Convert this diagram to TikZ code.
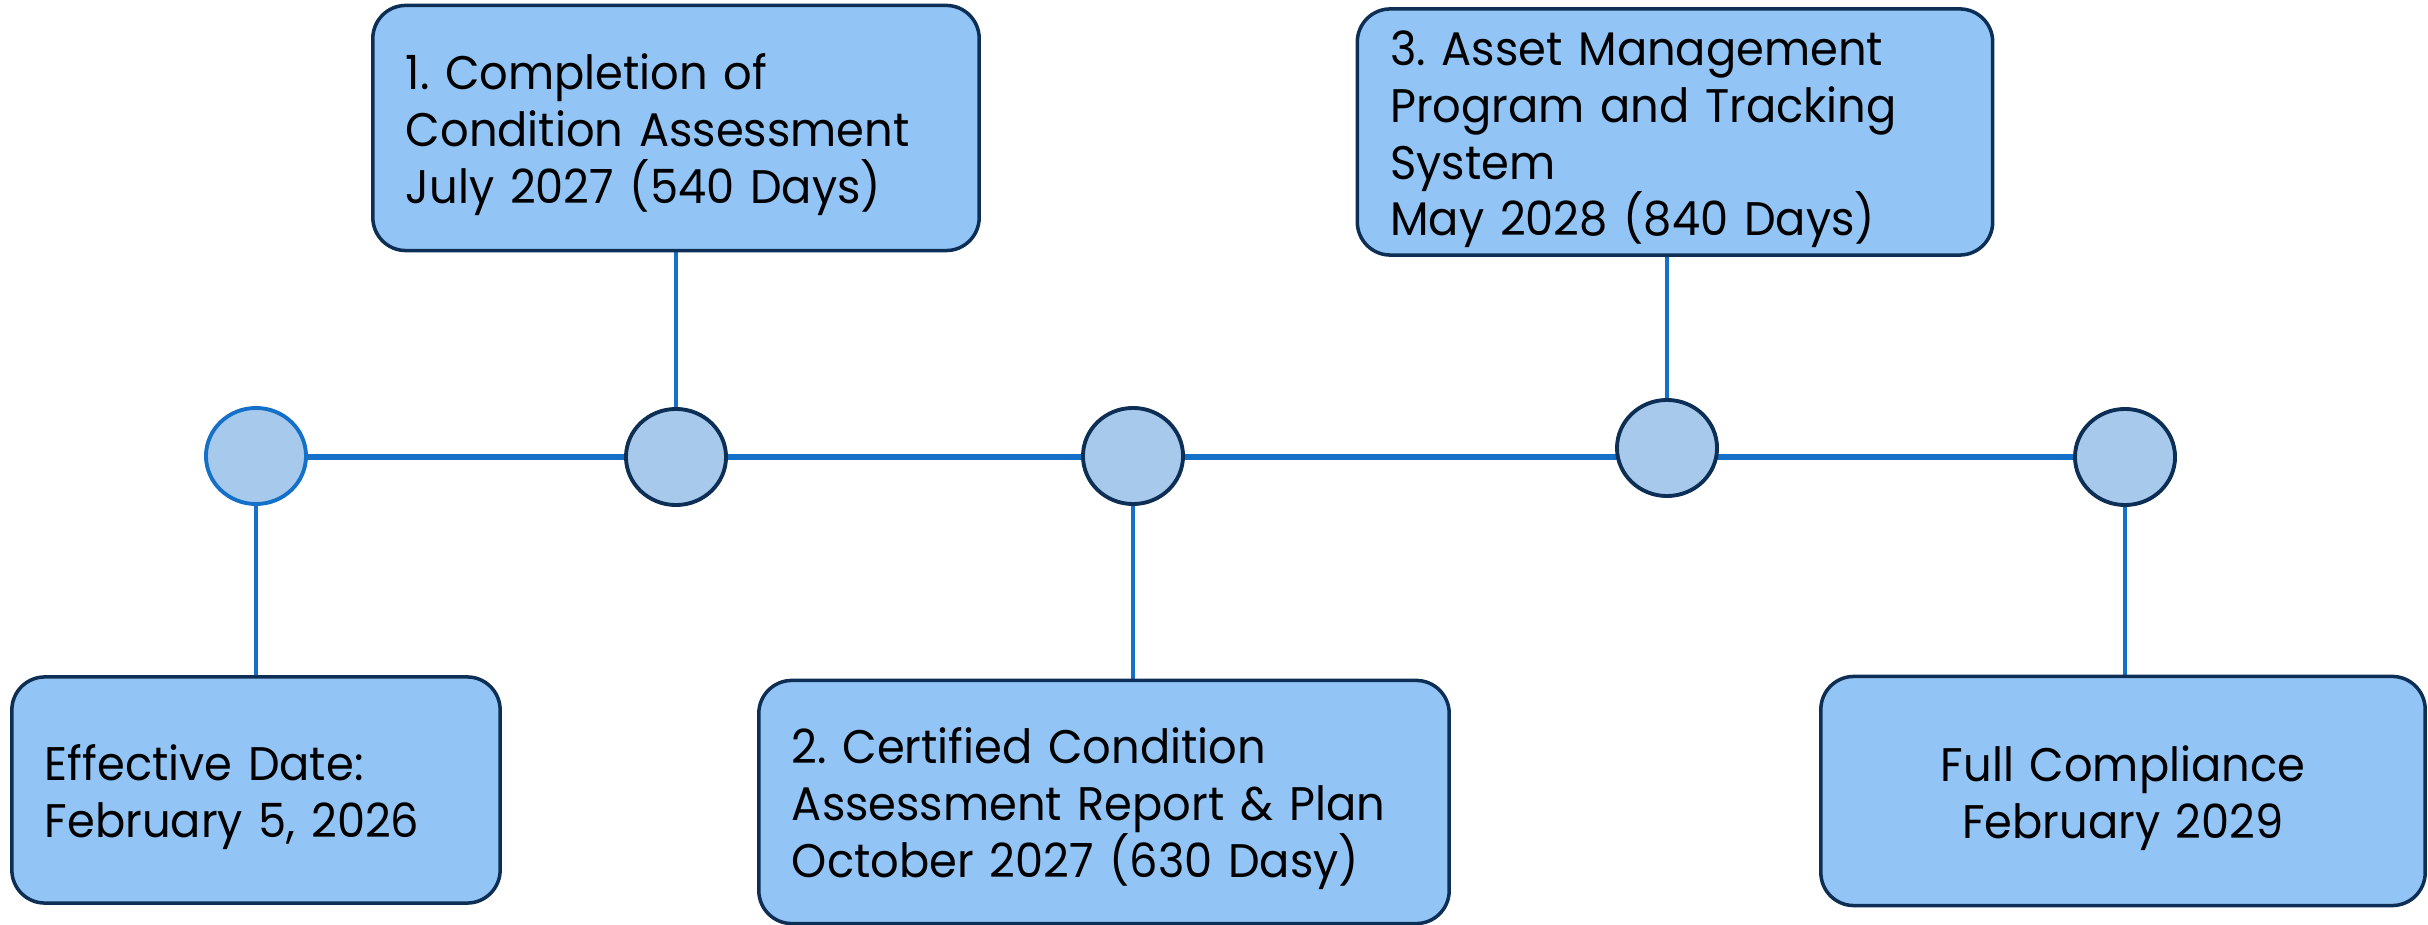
\documentclass[tikz,border=0pt]{standalone}
\usepackage{fontspec}
\setmainfont{Poppins}[FakeStretch=0.95]
\usetikzlibrary{shapes.geometric,backgrounds}
\frenchspacing

\definecolor{BoxFill}{HTML}{92C5F5}
\definecolor{DotFill}{HTML}{A7CAEC}
\definecolor{Navy}{HTML}{0E2F55}
\definecolor{LineBlue}{HTML}{1470C8}

\begin{document}
\begin{tikzpicture}[x=0.01cm, y=-0.01cm,
  milestone/.style={draw=Navy, line width=1pt, fill=BoxFill, rounded corners=0.33cm,
    inner xsep=0.33cm, inner ysep=0pt, align=left,
    font=\fontsize{13.4}{16.2}\selectfont,
    execute at begin node={\rule{0pt}{14pt}}},
  dot/.style={ellipse, draw=Navy, line width=1.1pt, fill=DotFill,
    minimum width=1cm, minimum height=0.96cm, inner sep=0pt},
  timeline/.style={draw=LineBlue, line width=1.5pt},
  stem/.style={draw=LineBlue, line width=1pt}]

 \useasboundingbox (0,0) rectangle (2428,925);

 %%%%%%%%%% Points on the timeline %%%%%%%%%%
 \node[dot, draw=LineBlue] (d0) at (256,456) {};
 \node[dot] (d1) at (676,457) {};
 \node[dot] (d2) at (1133,456) {};
 \node[dot] (d3) at (1667,448) {};
 \node[dot] (d4) at (2125,457) {};

 %%%%%%%%%% Boxes below %%%%%%%%%%
 \node[milestone, text width=4.22cm, minimum height=2.26cm] (start) at (256,790)
   {Effective Date:\\February 5, 2026};
 \node[milestone, text width=6.24cm, minimum height=2.43cm] (report) at (1104,802)
   {2. Certified Condition\\Assessment Report \& Plan\\October 2027 (630 Dasy)};
 \node[milestone, align=center, text width=5.38cm, minimum height=2.29cm] (full) at (2123,791)
   {Full Compliance\\February 2029};

 %%%%%%%%%% Boxes above %%%%%%%%%%
 \node[milestone, text width=5.40cm, minimum height=2.45cm] (assess) at (676,128)
   {1. Completion of\\Condition Assessment\\July 2027 (540 Days)};
 \node[milestone, text width=5.69cm, minimum height=2.46cm] (asset) at (1675,132)
   {3. Asset Management\\Program and Tracking\\System\\May 2028 (840 Days)};

 %%%%%%%%%% Lines %%%%%%%%%%
 \begin{scope}[on background layer]
  \draw[timeline] (d0) -- (d4 -| d0) -- (d4);
  \draw[stem] (d0.south) -- (d0.south |- start.north);
  \draw[stem] (d1.north) -- (d1.north |- assess.south);
  \draw[stem] (d2.south) -- (d2.south |- report.north);
  \draw[stem] (d3.north) -- (d3.north |- asset.south);
  \draw[stem] (d4.south) -- (d4.south |- full.north);
 \end{scope}

\end{tikzpicture}
\end{document}
